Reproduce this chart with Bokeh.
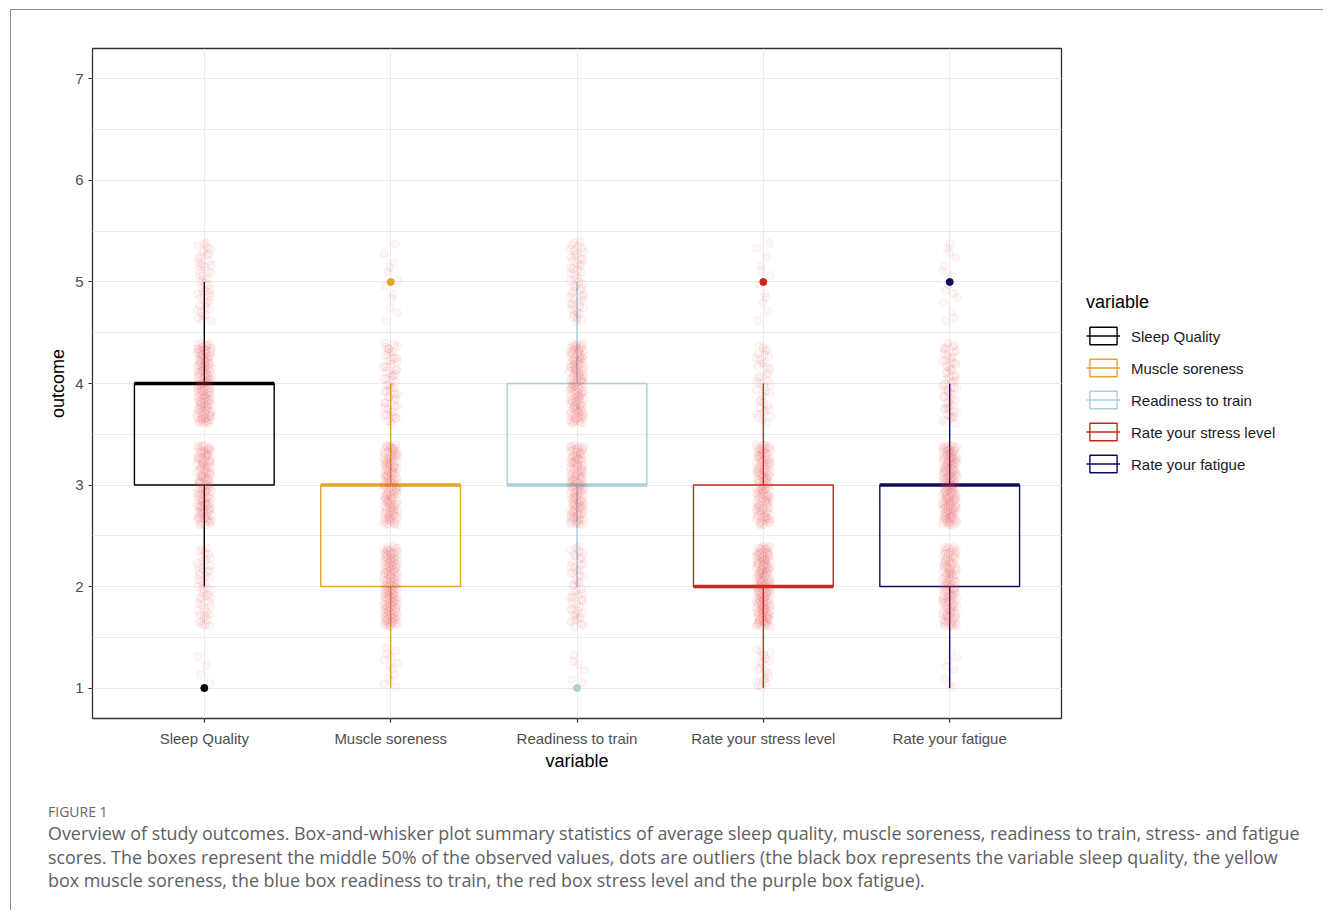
from bokeh.plotting import figure
from bokeh.models import (ColumnDataSource, Range1d, FactorRange, SingleIntervalTicker,
                          Legend, LegendItem, Div)
from bokeh.layouts import column, row
from bokeh.embed import file_html
from bokeh.resources import INLINE

variables = ["Sleep Quality", "Muscle soreness", "Readiness to train",
             "Rate your stress level", "Rate your fatigue"]
colors = ["#000000", "#E3A52C", "#A9CFDD", "#C42A20", "#0D0D5E"]

q1 = [3, 2, 3, 2, 2]
median = [4, 3, 3, 2, 3]
q3 = [4, 3, 4, 3, 3]
whisker_low = [2, 1, 2, 1, 1]
whisker_high = [5, 4, 5, 4, 4]
outlier_var = ["Sleep Quality", "Muscle soreness", "Readiness to train",
               "Rate your stress level", "Rate your fatigue"]
outlier_val = [1, 5, 1, 5, 5]

levels = [1, 2, 3, 4, 5]
counts_sleep = [8, 50, 130, 145, 47]
counts_muscle = [25, 150, 135, 58, 12]
counts_readiness = [12, 50, 130, 135, 53]
counts_stress = [38, 160, 130, 40, 12]
counts_fatigue = [15, 125, 165, 60, 15]
counts = [counts_sleep, counts_muscle, counts_readiness, counts_stress, counts_fatigue]

y_ticks_start, y_ticks_end = 1, 7

caption_head = "FIGURE 1"
caption_lines = [
    "Overview of study outcomes. Box-and-whisker plot summary statistics of average sleep quality, muscle soreness, readiness to train, stress- and fatigue",
    "scores. The boxes represent the middle 50% of the observed values, dots are outliers (the black box represents the variable sleep quality, the yellow",
    "box muscle soreness, the blue box readiness to train, the red box stress level and the purple box fatigue).",
]

def halton(i, b):
    f, r = 1.0, 0.0
    while i > 0:
        f /= b
        r += f * (i % b)
        i //= b
    return r

JIT_W, JIT_H = 0.04, 0.4
jx, jy = [], []
k = 0
for vi, var in enumerate(variables):
    for lv, n in zip(levels, counts[vi]):
        for _ in range(n):
            k += 1
            dx = (halton(k, 2) - 0.5) * 2 * JIT_W
            dy = (halton(k, 3) - 0.5) * 2 * JIT_H
            yv = lv + dy
            if yv < y_ticks_start:
                continue
            jx.append((var, dx))
            jy.append(yv)

FONT = "Liberation Sans"

p = figure(width=1052, height=764,
           x_range=FactorRange(factors=variables, range_padding=0.1,
                               range_padding_units="absolute"),
           y_range=Range1d(0.7, 7.3),
           toolbar_location=None, output_backend="svg",
           min_border_left=81, min_border_top=38, min_border_bottom=56,
           min_border_right=2)
p.background_fill_color = "white"
p.border_fill_color = "white"
p.outline_line_color = "#333333"
p.outline_line_width = 1.3

p.xgrid.grid_line_color = "#EBEBEB"
p.xgrid.grid_line_width = 1.1
p.ygrid.grid_line_color = "#EBEBEB"
p.ygrid.grid_line_width = 1.1
p.ygrid.minor_grid_line_color = "#EBEBEB"
p.ygrid.minor_grid_line_width = 1.0

p.yaxis.ticker = SingleIntervalTicker(interval=1, num_minor_ticks=2)

for ax in (p.xaxis[0], p.yaxis[0]):
    ax.axis_line_color = None
    ax.major_tick_line_color = "#333333"
    ax.major_tick_line_width = 1.2
    ax.major_tick_in = 0
    ax.major_tick_out = 4
    ax.minor_tick_line_color = None
    ax.major_label_text_font = FONT
    ax.major_label_text_font_size = "15px"
    ax.major_label_text_color = "#4D4D4D"
    ax.axis_label_text_font = FONT
    ax.axis_label_text_font_size = "18px"
    ax.axis_label_text_font_style = "normal"
    ax.axis_label_text_color = "#000000"

p.xaxis.axis_label = "variable"
p.yaxis.axis_label = "outcome"
p.xaxis.major_label_standoff = 7
p.xaxis.axis_label_standoff = 1
p.yaxis.major_label_standoff = 5
p.yaxis.axis_label_standoff = 4

box_src = ColumnDataSource(dict(x=variables, q1=q1, q3=q3, med=median,
                                lo=whisker_low, hi=whisker_high, color=colors,
                                mx0=[(v, -0.375) for v in variables],
                                mx1=[(v, 0.375) for v in variables]))

p.segment(x0="x", y0="lo", x1="x", y1="q1", source=box_src,
          line_color="color", line_width=1.4)
p.segment(x0="x", y0="q3", x1="x", y1="hi", source=box_src,
          line_color="color", line_width=1.4)
p.vbar(x="x", width=0.75, bottom="q1", top="q3", source=box_src,
       fill_color=None, line_color="color", line_width=1.4)
p.segment(x0="mx0", y0="med", x1="mx1", y1="med", source=box_src,
          line_color="color", line_width=3.6)

jit_src = ColumnDataSource(dict(x=jx, y=jy))
p.scatter(x="x", y="y", source=jit_src, size=8, marker="circle",
          fill_color="#E53B3B", fill_alpha=0.045,
          line_color="#E53B3B", line_alpha=0.07, line_width=1)

out_src = ColumnDataSource(dict(x=outlier_var, y=outlier_val, color=colors))
p.scatter(x="x", y="y", source=out_src, size=7, marker="circle",
          fill_color="color", line_color="color")

# ---------- legend panel (separate figure, keys drawn by Bokeh's Legend) ----------
lg = figure(width=260, height=764, x_range=Range1d(0, 1), y_range=Range1d(0, 1),
            toolbar_location=None, output_backend="svg", min_border=0)
lg.axis.visible = False
lg.grid.visible = False
lg.outline_line_color = None
lg.background_fill_color = "white"
lg.border_fill_color = "white"
items = []
for v, c in zip(variables, colors):
    kb = lg.quad(left=[-10], right=[-9], bottom=[-10], top=[-9],
                 fill_color=None, line_color=c, line_width=1.4)
    km = lg.segment(x0=[-10], y0=[-10], x1=[-9], y1=[-10], line_color=c, line_width=1.4)
    items.append(LegendItem(label=v, renderers=[kb, km]))
legend = Legend(items=items, title="variable", location="center_left",
                glyph_width=34, glyph_height=22, spacing=10, label_standoff=11,
                padding=0, margin=23, border_line_color=None,
                background_fill_alpha=0, title_standoff=12,
                label_text_font=FONT, label_text_font_size="15px",
                label_text_color="#1A1A1A", label_height=22,
                title_text_font=FONT, title_text_font_size="18px",
                title_text_font_style="normal", title_text_color="#000000")
lg.add_layout(legend, "center")

# ---------- caption ----------
cap_html = (
    '<div style="font-family:\'Open Sans\'; padding:24px 0 0 32px; white-space:nowrap;">'
    '<div style="font-size:14px; color:#666666; line-height:18px; margin-bottom:1px;">'
    + caption_head + '</div>'
    + "".join('<div style="font-size:17.9px; color:#5E5E5E; line-height:23.5px;">'
              + ln + '</div>' for ln in caption_lines)
    + '</div>'
)
cap = Div(text=cap_html, width=1300, height=126)

layout = column(row(p, lg), cap, margin=(9, 0, 0, 10),
                styles={"border-left": "1px solid #8C8C8C",
                        "border-top": "1px solid #8C8C8C"})

open("out.html", "w").write(file_html(layout, INLINE))
